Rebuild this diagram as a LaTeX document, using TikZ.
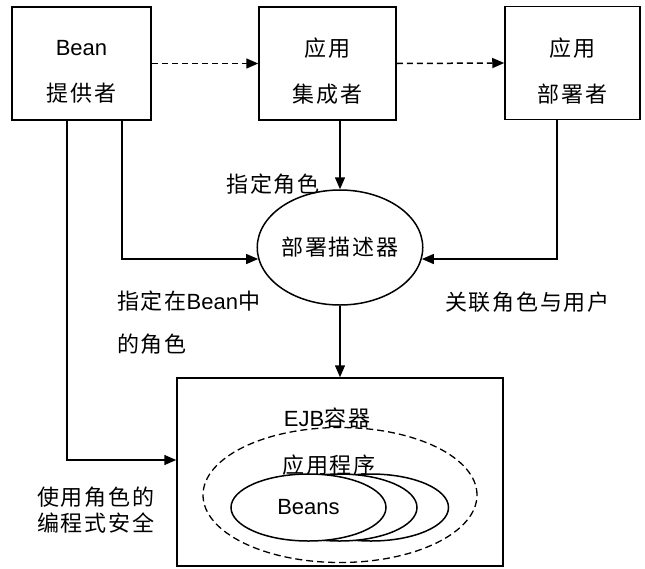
\documentclass[tikz,border=0pt]{standalone}
\usepackage{fontspec}
\setmainfont[LetterSpace=8]{Noto Sans CJK SC}
\newfontfamily\lat{Liberation Sans}
\usetikzlibrary{arrows.meta,shapes.geometric}
\begin{document}
\begin{tikzpicture}[x=1pt,y=-1pt,
  every node/.style={font=\fontsize{22}{26}\selectfont, inner sep=0pt},
  lw/.style={line width=1.5pt},
  box/.style={draw, lw, rectangle, minimum height=113pt},
  twoline/.style={align=center, font=\fontsize{22}{46}\selectfont},
  arr/.style={lw, -{Triangle[length=12pt,width=10pt]}},
  darr/.style={arr, dash pattern=on 6pt off 4pt},
  bean/.style={draw, lw, ellipse, fill=white, minimum width=155pt, minimum height=67pt}]
\useasboundingbox (0,0) rectangle (645,568);
% top boxes
\node[box, minimum width=139pt] (b1) at (81.5,63.5) {};
\node[box, minimum width=137pt] (b2) at (327.5,63.5) {};
\node[box, minimum width=135pt] (b3) at (572.5,63) {};
\node[twoline] (t1) at (81.5,71.5) {{\lat Bean}\\提供者};
\node[twoline] (t2) at (327.5,71.5) {应用\\集成者};
\node[twoline] (t3) at (572.5,71.5) {应用\\部署者};
% descriptor
\node[draw, lw, ellipse, minimum width=164pt, minimum height=115pt] (e) at (340,247.5) {部署描述器};
% container
\node[draw, lw, rectangle, minimum width=326pt, minimum height=188pt] (c) at (340,472) {};
\node[draw, line width=1.3pt, ellipse, dash pattern=on 7pt off 4pt, minimum width=274pt, minimum height=135pt] (d) at (340,495) {};
\node[bean] (f3) at (371,507.5) {};
\node[bean] (f2) at (339.5,507.5) {};
\node[bean] (f1) at (308.5,507.5) {\lat Beans};
\node (l6) at (327,418) {{\lat EJB}容器};
\node (l7) at (329,465) {应用程序};
% labels
\node (l1) at (273,184) {指定角色};
\node[anchor=west] (l2) at (117,301) {指定在{\lat Bean}中};
\node[anchor=west] (l3) at (117,344) {的角色};
\node[anchor=west] (l4) at (445,302) {关联角色与用户};
\node[anchor=west, align=left, font=\fontsize{22}{26}\selectfont] (l5) at (37,510) {使用角色的\\编程式安全};
% connectors
\draw[darr] (b1.east) -- (b2.west);
\draw[darr] (b2.east) -- (b3.west);
\draw[arr] (e.north |- b2.south) -- (e.north);
\draw[arr] ([xshift=40.5pt]b1.south) |- (e.188);
\draw[arr] ([xshift=-15.5pt]b3.south) |- (e.352);
\draw[arr] ([xshift=-14.5pt]b1.south) |- ([yshift=12pt]c.west);
\draw[arr] (e.south) -- (c.north);
\end{tikzpicture}
\end{document}
